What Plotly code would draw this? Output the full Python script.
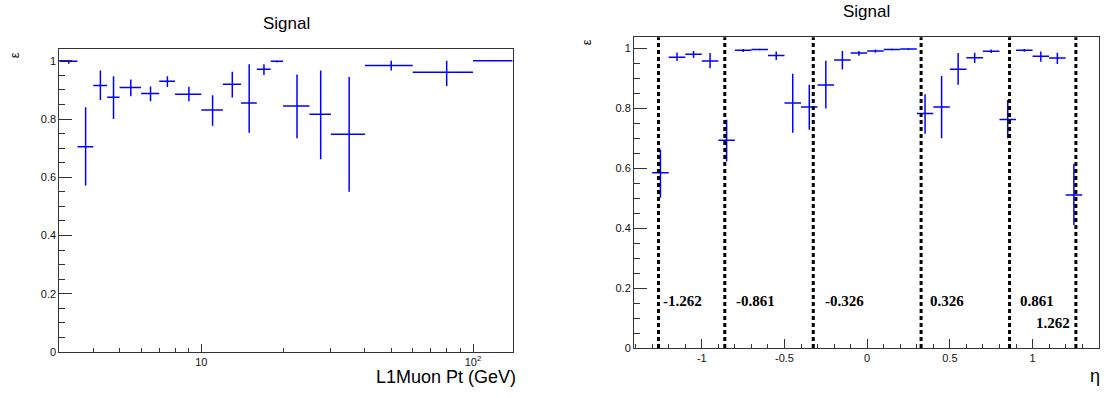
import plotly.graph_objects as go

# ---------------- data: left panel (efficiency vs L1Muon Pt) ----------------
pt_lo = [3, 3.5, 4, 4.5, 5, 6, 7, 8, 10, 12, 14, 16, 18, 20, 25, 30, 40, 60, 100]
pt_hi = [3.5, 4, 4.5, 5, 6, 7, 8, 10, 12, 14, 16, 18, 20, 25, 30, 40, 60, 100, 140]
eff_pt = [0.998, 0.705, 0.915, 0.875, 0.908, 0.888, 0.930, 0.885, 0.831, 0.919,
          0.855, 0.971, 0.998, 0.845, 0.816, 0.748, 0.984, 0.961, 1.0]
eff_pt_up = [0.002, 0.135, 0.052, 0.072, 0.028, 0.024, 0.017, 0.026, 0.051, 0.043,
             0.133, 0.017, 0.002, 0.108, 0.151, 0.196, 0.016, 0.039, 0.0]
eff_pt_dn = [0.008, 0.133, 0.050, 0.075, 0.030, 0.027, 0.020, 0.024, 0.054, 0.045,
             0.102, 0.020, 0.004, 0.111, 0.154, 0.198, 0.017, 0.048, 0.0]

# ---------------- data: right panel (efficiency vs eta) ----------------
eta_edges = [-1.3, -1.2, -1.1, -1.0, -0.9, -0.8, -0.7, -0.6, -0.5, -0.4, -0.3, -0.2, -0.1,
             0.0, 0.1, 0.2, 0.3, 0.4, 0.5, 0.6, 0.7, 0.8, 0.9, 1.0, 1.1, 1.2, 1.3]
eff_eta = [0.585, 0.971, 0.981, 0.958, 0.694, 0.994, 0.997, 0.977, 0.818, 0.805,
           0.878, 0.962, 0.985, 0.992, 0.997, 0.998, 0.783, 0.805, 0.931, 0.969,
           0.991, 0.763, 0.994, 0.974, 0.968, 0.511]
eff_eta_up = [0.078, 0.016, 0.011, 0.027, 0.068, 0.004, 0.002, 0.013, 0.098, 0.074,
              0.081, 0.030, 0.007, 0.005, 0.002, 0.002, 0.064, 0.103, 0.054, 0.017,
              0.006, 0.065, 0.004, 0.016, 0.018, 0.103]
eff_eta_dn = [0.083, 0.013, 0.013, 0.024, 0.071, 0.006, 0.003, 0.015, 0.099, 0.076,
              0.078, 0.032, 0.009, 0.006, 0.003, 0.003, 0.068, 0.105, 0.052, 0.017,
              0.006, 0.063, 0.005, 0.018, 0.020, 0.100]

eta_bounds = [-1.262, -0.861, -0.326, 0.326, 0.861, 1.262]
eta_bound_labels = ["-1.262", "-0.861", "-0.326", "0.326", "0.861", "1.262"]

# ---------------- derived ----------------
pt_c = [(a + b) / 2 for a, b in zip(pt_lo, pt_hi)]
pt_xm = [c - a for c, a in zip(pt_c, pt_lo)]
pt_xp = [b - c for c, b in zip(pt_c, pt_hi)]
eta_lo = eta_edges[:-1]
eta_hi = eta_edges[1:]
eta_c = [(a + b) / 2 for a, b in zip(eta_lo, eta_hi)]
eta_xm = [c - a for c, a in zip(eta_c, eta_lo)]
eta_xp = [b - c for c, b in zip(eta_c, eta_hi)]

BLUE = "#0000ff"
W, H = 1105, 398
FONT = "Liberation Sans, Arial, sans-serif"
SERIF = "Liberation Serif, Times New Roman, serif"

fig = go.Figure()

fig.add_trace(go.Scatter(
    x=pt_c, y=eff_pt, mode="markers", xaxis="x", yaxis="y",
    marker=dict(size=1, color=BLUE),
    error_x=dict(type="data", symmetric=False, array=pt_xp, arrayminus=pt_xm,
                 color=BLUE, thickness=1.5, width=0),
    error_y=dict(type="data", symmetric=False, array=eff_pt_up, arrayminus=eff_pt_dn,
                 color=BLUE, thickness=1.5, width=0),
    showlegend=False, hoverinfo="x+y"))

fig.add_trace(go.Scatter(
    x=eta_c, y=eff_eta, mode="markers", xaxis="x2", yaxis="y2",
    marker=dict(size=1, color=BLUE),
    error_x=dict(type="data", symmetric=False, array=eta_xp, arrayminus=eta_xm,
                 color=BLUE, thickness=1.5, width=0),
    error_y=dict(type="data", symmetric=False, array=eff_eta_up, arrayminus=eff_eta_dn,
                 color=BLUE, thickness=1.5, width=0),
    showlegend=False, hoverinfo="x+y"))

# geometry (pixels -> paper)
def px(x):
    return x / W

def py(y):
    return 1 - y / H

axis_common = dict(showgrid=False, zeroline=False, showline=True, mirror=True,
                   linecolor="#333", linewidth=1, ticks="inside", tickcolor="#333",
                   tickfont=dict(family=FONT, size=11, color="#111"))

yticks = dict(tickvals=[0, 0.2, 0.4, 0.6, 0.8, 1.0], ticktext=["0", "0.2", "0.4", "0.6", "0.8", "1"],
              ticklen=13, tickwidth=1,
              minor=dict(ticks="inside", ticklen=6, tickcolor="#333",
                         tickvals=[0.05, 0.1, 0.15, 0.25, 0.3, 0.35, 0.45, 0.5, 0.55,
                                   0.65, 0.7, 0.75, 0.85, 0.9, 0.95, 1.0]))

fig.update_layout(
    width=W, height=H,
    margin=dict(l=0, r=0, t=0, b=0),
    paper_bgcolor="white", plot_bgcolor="white",
    xaxis=dict(domain=[px(59.3), px(512.7)], anchor="y", type="log",
               range=[0.47712, 2.14613],
               tickvals=[10, 100], ticktext=["10", "10<sup>2</sup>"],
               ticklen=8,
               minor=dict(ticks="inside", ticklen=4, tickcolor="#333",
                          tickvals=[4, 5, 6, 7, 8, 9, 20, 30, 40, 50, 60, 70, 80, 90]),
               **axis_common),
    yaxis=dict(domain=[py(357.3), py(49.3)], anchor="x", range=[0, 1.042],
               **yticks, **axis_common),
    xaxis2=dict(domain=[px(634), px(1098.7)], anchor="y2",
                range=[-1.41, 1.40],
                tickvals=[-1, -0.5, 0, 0.5, 1], ticktext=["-1", "-0.5", "0", "0.5", "1"],
                ticklen=9,
                minor=dict(ticks="inside", ticklen=4, tickcolor="#333", dtick=0.1, tick0=0),
                **axis_common),
    yaxis2=dict(domain=[py(353.3), py(37.7)], anchor="x2", range=[0, 1.038],
                **yticks, **axis_common),
)

# dashed eta boundaries
for xb in eta_bounds:
    fig.add_shape(type="line", xref="x2", yref="y2 domain", x0=xb, x1=xb, y0=0, y1=1,
                  line=dict(color="black", width=3, dash="4px,3px"), layer="above")

# labels of boundaries
shifts = [3, 9, 10, 7, 8]
for xb, lab, s in zip(eta_bounds[:5], eta_bound_labels[:5], shifts):
    fig.add_annotation(x=xb, y=0.157, xref="x2", yref="y2", text="<b>" + lab + "</b>", showarrow=False,
                       xanchor="left", yanchor="middle", xshift=s,
                       font=dict(family=SERIF, size=15, color="black"))
fig.add_annotation(x=eta_bounds[5], y=0.082, xref="x2", yref="y2", text="<b>" + eta_bound_labels[5] + "</b>",
                   showarrow=False, xanchor="right", yanchor="middle", xshift=-4,
                   font=dict(family=SERIF, size=15, color="black"))

# titles / axis titles
fig.add_annotation(x=px(286), y=py(24), xref="paper", yref="paper", text="Signal", showarrow=False,
                   xanchor="center", yanchor="middle", font=dict(family=FONT, size=17, color="black"))
fig.add_annotation(x=px(866.7), y=py(12), xref="paper", yref="paper", text="Signal", showarrow=False,
                   xanchor="center", yanchor="middle", font=dict(family=FONT, size=17, color="black"))
fig.add_annotation(x=px(14), y=py(56), xref="paper", yref="paper", text="ε", showarrow=False,
                   textangle=-90, xanchor="center", yanchor="middle",
                   font=dict(family=FONT, size=13, color="black"))
fig.add_annotation(x=px(586), y=py(43), xref="paper", yref="paper", text="ε", showarrow=False,
                   textangle=-90, xanchor="center", yanchor="middle",
                   font=dict(family=FONT, size=13, color="black"))
fig.add_annotation(x=px(518), y=py(383), xref="paper", yref="paper", text="L1Muon Pt (GeV)",
                   showarrow=False, xanchor="right", yanchor="middle",
                   font=dict(family=FONT, size=18, color="black"))
fig.add_annotation(x=px(1095), y=py(382), xref="paper", yref="paper", text="η",
                   showarrow=False, xanchor="center", yanchor="middle",
                   font=dict(family=FONT, size=18, color="black"))

fig.write_html("out.html")
